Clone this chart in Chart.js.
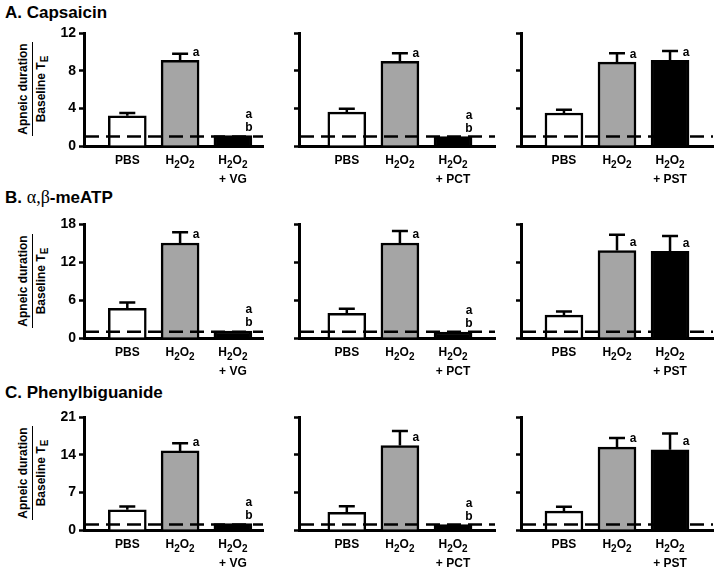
<!DOCTYPE html>
<html>
<head>
<meta charset="utf-8">
<script src="https://cdn.jsdelivr.net/npm/chart.js@4.4.1/dist/chart.umd.min.js"></script>
<style>
  body { margin: 0; background: #fff; }
  #fig { position: relative; width: 720px; height: 574px; overflow: hidden; font-family: "Liberation Sans", Arial, sans-serif; color: #000; }
  #fig canvas { position: absolute; }
  .title { position: absolute; left: 5px; font-weight: bold; font-size: 17px; line-height: 20px; white-space: nowrap; }
  .title .greek { font-family: "Liberation Serif", "Times New Roman", serif; font-weight: normal; font-size: 18px; }
  .ylab { position: absolute; width: 94px; font-weight: bold; font-size: 12px; line-height: 15px; text-align: center; white-space: nowrap;
          transform: translate(-50%, -50%) rotate(-90deg); }
  .ylab .num { border-bottom: 1.5px solid #000; padding-bottom: 1px; margin-bottom: 1px; }
  .ylab sub { font-size: 10px; vertical-align: -3px; }
</style>
</head>
<body>
<div id="fig">
  <div class="title" style="top:3px">A. Capsaicin</div>
  <div class="title" style="top:187px">B. <span class="greek">α,β</span>-meATP</div>
  <div class="title" style="top:383px">C. Phenylbiguanide</div>

  <div class="ylab" style="left:34px;top:89px"><div class="num">Apneic duration</div><div>Baseline T<sub>E</sub></div></div>
  <div class="ylab" style="left:34px;top:281px"><div class="num">Apneic duration</div><div>Baseline T<sub>E</sub></div></div>
  <div class="ylab" style="left:34px;top:473px"><div class="num">Apneic duration</div><div>Baseline T<sub>E</sub></div></div>
</div>

<script>
// categories (x labels, "_2" = subscript) and the treatment line under the 3rd bar
const categories = ['PBS', 'H_2O_2', 'H_2O_2'];
const treatments = ['+ VG', '+ PCT', '+ PST'];
const barFill = ['#ffffff', '#a5a5a5', '#000000'];

// y axis per row
const rowMax = [12, 18, 21];
const rowStep = [4, 6, 7];

// A. Capsaicin
const capsVG = [3.2, 9.1, 1.1];
const capsVGErr = [0.3, 0.7, 0];
const capsPCT = [3.6, 9.0, 1.0];
const capsPCTErr = [0.35, 0.85, 0];
const capsPST = [3.5, 8.9, 9.1];
const capsPSTErr = [0.35, 0.95, 1.0];

// B. a,b-meATP
const atpVG = [4.7, 15.0, 1.1];
const atpVGErr = [0.9, 1.7, 0];
const atpPCT = [3.9, 15.0, 0.95];
const atpPCTErr = [0.7, 1.9, 0];
const atpPST = [3.6, 13.8, 13.7];
const atpPSTErr = [0.6, 2.5, 2.4];

// C. Phenylbiguanide
const pbgVG = [3.75, 14.7, 1.2];
const pbgVGErr = [0.6, 1.4, 0];
const pbgPCT = [3.3, 15.7, 1.0];
const pbgPCTErr = [1.1, 2.7, 0];
const pbgPST = [3.5, 15.4, 14.9];
const pbgPSTErr = [0.8, 1.7, 3.05];

// significance letters per column
const lettersVG = ['', 'a', 'ab'];
const lettersPCT = ['', 'a', 'ab'];
const lettersPST = ['', 'a', 'a'];

const baseline = 1;

const panels = [
  [[capsVG, capsVGErr, lettersVG], [capsPCT, capsPCTErr, lettersPCT], [capsPST, capsPSTErr, lettersPST]],
  [[atpVG, atpVGErr, lettersVG], [atpPCT, atpPCTErr, lettersPCT], [atpPST, atpPSTErr, lettersPST]],
  [[pbgVG, pbgVGErr, lettersVG], [pbgPCT, pbgPCTErr, lettersPCT], [pbgPST, pbgPSTErr, lettersPST]]
];

// layout (pixels)
const colAxisX = [84, 299, 521];
const colWidth = [179, 196, 192];
const colXMin = [-0.82, -0.9, -0.81];
const colXMax = [2.57, 2.79, 2.81];
const rowTop = [33, 223.5, 417];
const rowZero = [146, 338, 530];

const FONT = '"Liberation Sans", Arial, sans-serif';
const fig = document.getElementById('fig');

// draws "H_2O_2" style text centered at cx
function drawSubText(ctx, str, cx, cy) {
  const parts = [];
  for (let i = 0; i < str.length; i++) {
    if (str[i] === '_') { parts.push({ t: str[i + 1], sub: true }); i++; }
    else parts.push({ t: str[i], sub: false });
  }
  const big = 'bold 12px ' + FONT, small = 'bold 10px ' + FONT;
  let w = 0;
  parts.forEach(p => { ctx.font = p.sub ? small : big; p.w = ctx.measureText(p.t).width; w += p.w; });
  let x = cx - w / 2;
  ctx.textAlign = 'left';
  ctx.textBaseline = 'middle';
  parts.forEach(p => {
    ctx.font = p.sub ? small : big;
    ctx.fillText(p.t, x, p.sub ? cy + 4 : cy);
    x += p.w;
  });
}

function extras(values, errors, letters, treatment) {
  return {
    id: 'extras',
    afterDatasetsDraw(chart) {
      const { ctx, chartArea, scales: { x, y } } = chart;
      ctx.save();
      // dashed baseline at 1
      const yb = y.getPixelForValue(baseline);
      ctx.strokeStyle = '#000';
      ctx.lineWidth = 2.5;
      ctx.setLineDash([14, 7]);
      ctx.beginPath();
      ctx.moveTo(chartArea.left + 1, yb);
      ctx.lineTo(chartArea.right, yb);
      ctx.stroke();
      ctx.setLineDash([]);

      // error bars (upper half only)
      values.forEach((v, i) => {
        if (!errors[i]) return;
        const px = x.getPixelForValue(i);
        const top = y.getPixelForValue(v);
        const et = y.getPixelForValue(v + errors[i]);
        ctx.beginPath();
        ctx.moveTo(px, top);
        ctx.lineTo(px, et);
        ctx.moveTo(px - 8, et);
        ctx.lineTo(px + 8, et);
        ctx.stroke();
      });

      // letters
      ctx.fillStyle = '#000';
      ctx.font = 'bold 12px ' + FONT;
      ctx.textAlign = 'center';
      ctx.textBaseline = 'middle';
      letters.forEach((l, i) => {
        if (!l) return;
        const px = x.getPixelForValue(i) + 16;
        const top = y.getPixelForValue(values[i]);
        if (l.length === 1) ctx.fillText(l, px, top - 8);
        else {
          ctx.fillText(l[0], px, top - 21);
          ctx.fillText(l[1], px, top - 8);
        }
      });
      ctx.restore();
    },
    afterDraw(chart) {
      const { ctx, scales: { x, y } } = chart;
      const zero = y.getPixelForValue(0);
      ctx.save();
      ctx.fillStyle = '#000';
      categories.forEach((c, i) => {
        const px = x.getPixelForValue(i);
        drawSubText(ctx, c, px, zero + 15);
        if (i === 2) {
          ctx.font = 'bold 12px ' + FONT;
          ctx.textAlign = 'center';
          ctx.fillText(treatment, px, zero + 34);
        }
      });
      ctx.restore();
    }
  };
}

function makePanel(r, c) {
  const [values, errors, letters] = panels[r][c];
  const padTop = 12, yW = 45, bottom = 44, padR = 3;
  const plotH = rowZero[r] - rowTop[r];
  const cv = document.createElement('canvas');
  cv.width = yW + colWidth[c] + padR;
  cv.height = padTop + plotH + bottom;
  cv.style.width = cv.width + 'px';
  cv.style.height = cv.height + 'px';
  cv.style.left = (colAxisX[c] - yW) + 'px';
  cv.style.top = (rowTop[r] - padTop) + 'px';
  fig.appendChild(cv);

  new Chart(cv, {
    type: 'bar',
    data: {
      datasets: [{
        data: values.map((v, i) => ({ x: i, y: v })),
        backgroundColor: barFill,
        borderColor: '#000',
        borderWidth: 2.5,
        barThickness: 38
      }]
    },
    options: {
      responsive: false,
      animation: false,
      devicePixelRatio: 1,
      layout: { padding: { top: padTop, right: padR, left: 0, bottom: 0 } },
      plugins: { legend: { display: false }, tooltip: { enabled: false } },
      scales: {
        x: {
          type: 'linear', min: colXMin[c], max: colXMax[c], offset: false, z: 1,
          grid: { display: false },
          ticks: { display: false },
          border: { display: true, color: '#000', width: 3 },
          afterFit(s) { s.height = bottom; }
        },
        y: {
          min: 0, max: rowMax[r], z: 1,
          ticks: {
            stepSize: rowStep[r], padding: 3,
            color: c === 0 ? '#000' : 'rgba(0,0,0,0)',
            font: { family: FONT, size: 14, weight: 'bold' }
          },
          grid: { drawOnChartArea: false, drawTicks: true, tickLength: 5, tickWidth: 2.5, tickColor: '#000', color: '#000' },
          border: { display: true, color: '#000', width: 3 },
          afterFit(s) { s.width = yW; }
        }
      }
    },
    plugins: [extras(values, errors, letters, treatments[c])]
  });
}

for (let r = 0; r < 3; r++) {
  for (let c = 0; c < 3; c++) makePanel(r, c);
}
</script>
</body>
</html>
